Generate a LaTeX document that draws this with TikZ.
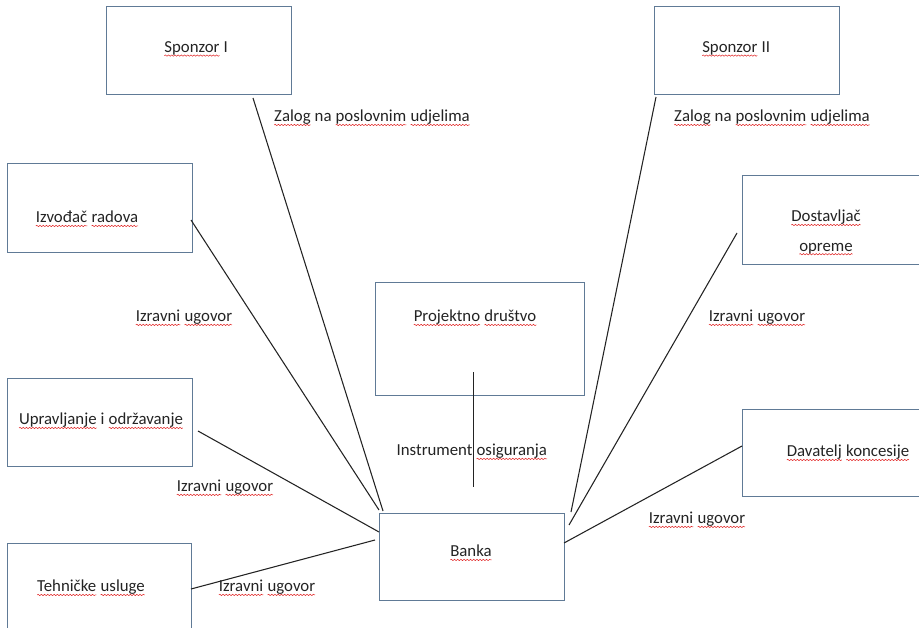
\documentclass[tikz,border=0pt]{standalone}
\usepackage{fontspec}
\setmainfont{Carlito}
\usetikzlibrary{decorations.pathmorphing}
\definecolor{boxc}{RGB}{96,122,150}
\definecolor{inkc}{RGB}{35,35,35}
\definecolor{wavec}{RGB}{225,40,40}
\newcommand\sq[1]{\tikz[x=1pt,y=1pt,baseline=(sqw.base)]{\node[inner sep=0pt,outer sep=0pt] (sqw) {#1};\draw[wavec,line width=0.4pt,decorate,decoration={snake,amplitude=0.5pt,segment length=2.4pt}] ([yshift=-2.4pt]sqw.base west) -- ([yshift=-2.4pt]sqw.base east);}}
\newcommand\boxat[5]{\node[box,minimum width={(#4-#2)*0.75pt},minimum height={(#5-#3)*0.75pt}] (#1) at ({(#2+#4)/2},{(#3+#5)/2}) {};}
\begin{document}
\begin{tikzpicture}[x=0.75pt,y=-0.75pt,
  box/.style={draw=boxc,line width=0.75pt,inner sep=0pt,outer sep=0pt},
  lbl/.style={font=\fontsize{12.6}{15}\selectfont,inner sep=0pt,text=inkc},
  link/.style={draw=inkc,line width=0.8pt}]
\useasboundingbox (0,0) rectangle (919,627);
\clip (0,0) rectangle (919,627);

% boxes
\boxat{sp1}{106}{7}{291}{95}
\boxat{sp2}{654}{7}{839}{95}
\boxat{izv}{7}{164}{192}{252}
\boxat{dos}{742}{176}{930}{264}
\boxat{upr}{7}{378}{192}{466}
\boxat{dav}{742}{409}{930}{496}
\boxat{teh}{7}{543}{191}{640}
\boxat{pro}{375}{282}{584}{395}
\boxat{ban}{379}{513}{564}{600}

% box texts
\node[lbl] (tsp1) at (196,49) {\sq{Sponzor} I};
\node[lbl] (tsp2) at (736,49) {\sq{Sponzor} II};
\node[lbl] (tizv) at (87,219) {\sq{Izvođač} \sq{radova}};
\node[lbl] (tdos1) at (826,218) {\sq{Dostavljač}};
\node[lbl] (tdos2) at (826,249) {\sq{opreme}};
\node[lbl] (tupr) at (101,421) {\sq{Upravljanje} i \sq{održavanje}};
\node[lbl] (tdav) at (848,453) {\sq{Davatelj} \sq{koncesije}};
\node[lbl] (tteh) at (91,588) {\sq{Tehničke} \sq{usluge}};
\node[lbl] (tpro) at (475,318) {\sq{Projektno} \sq{društvo}};
\node[lbl] (tban) at (471,553) {\sq{Banka}};

% connector labels
\node[lbl] (l1) at (372,118) {\sq{Zalog} na \sq{poslovnim} \sq{udjelima}};
\node[lbl] (l2) at (772,118) {\sq{Zalog} na \sq{poslovnim} \sq{udjelima}};
\node[lbl] (l3) at (184,318) {\sq{Izravni} \sq{ugovor}};
\node[lbl] (l4) at (757,318) {\sq{Izravni} \sq{ugovor}};
\node[lbl] (l5) at (225,488) {\sq{Izravni} \sq{ugovor}};
\node[lbl] (l6) at (697,520) {\sq{Izravni} \sq{ugovor}};
\node[lbl] (l7) at (267,588) {\sq{Izravni} \sq{ugovor}};
\node[lbl] (l8) at (472,452) {Instrument \sq{osiguranja}};

% connector end points
\coordinate (a1) at (253,98);  \coordinate (b1) at (383,511);
\coordinate (a2) at (656,97);  \coordinate (b2) at (571,512);
\coordinate (a3) at (191,220); \coordinate (b3) at (379,510);
\coordinate (a4) at (737,233); \coordinate (b4) at (569,525);
\coordinate (a5) at (198,431); \coordinate (b5) at (379,532);
\coordinate (a6) at (742,446); \coordinate (b6) at (564,543);
\coordinate (a7) at (191,589); \coordinate (b7) at (375,540);
\coordinate (a8) at (473.5,372); \coordinate (b8) at (473.5,487);

\draw[link] (a1) -- (b1);
\draw[link] (a2) -- (b2);
\draw[link] (a3) -- (b3);
\draw[link] (a4) -- (b4);
\draw[link] (a5) -- (b5);
\draw[link] (a6) -- (b6);
\draw[link] (a7) -- (b7);
\draw[link] (a8) -- (b8);
\end{tikzpicture}
\end{document}
